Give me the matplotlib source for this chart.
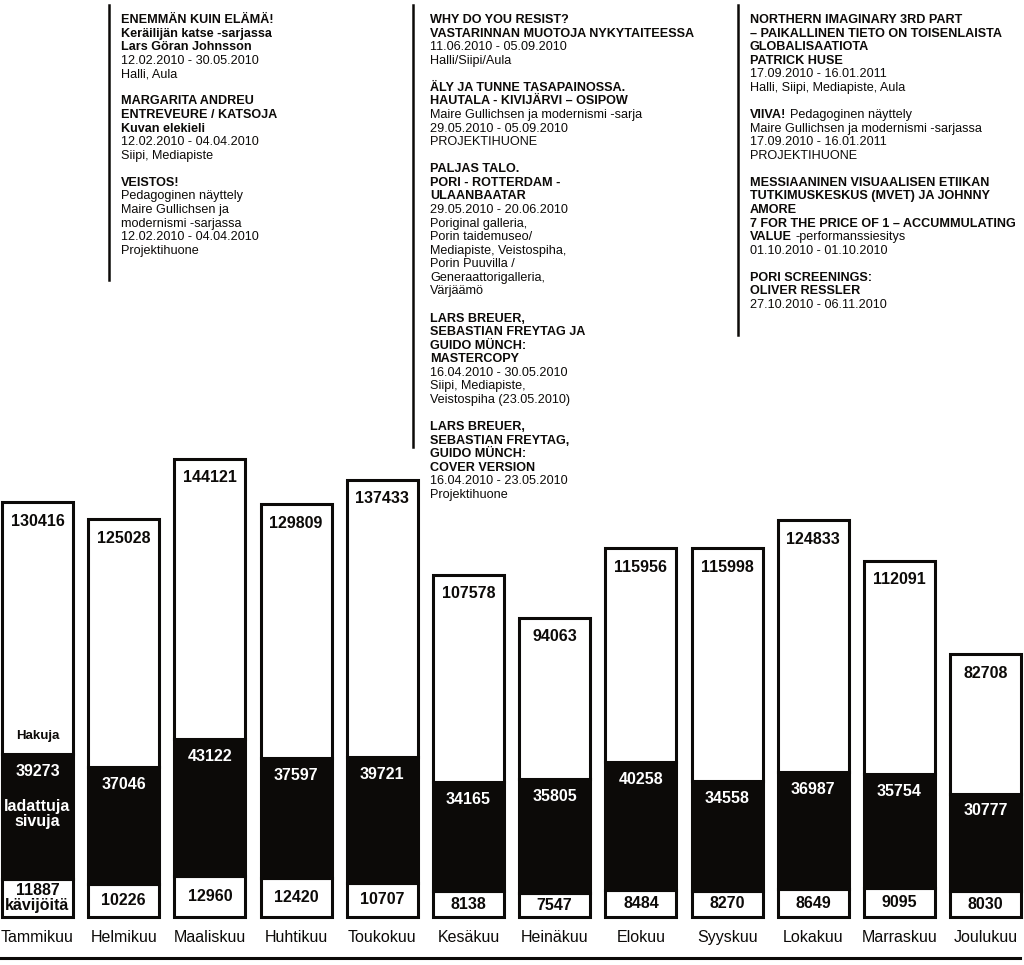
import matplotlib
matplotlib.use("Agg")
import matplotlib.pyplot as plt
import numpy as np

plt.rcParams['font.family'] = ['Liberation Sans', 'DejaVu Sans']

# monthly figures 2010
months = ["Tammikuu", "Helmikuu", "Maaliskuu", "Huhtikuu", "Toukokuu", "Kesäkuu",
          "Heinäkuu", "Elokuu", "Syyskuu", "Lokakuu", "Marraskuu", "Joulukuu"]
hakuja = [130416, 125028, 144121, 129809, 137433, 107578,
          94063, 115956, 115998, 124833, 112091, 82708]
sivuja = [39273, 37046, 43122, 37597, 39721, 34165,
          35805, 40258, 34558, 36987, 35754, 30777]
kavijoita = [11887, 10226, 12960, 12420, 10707, 8138,
             7547, 8484, 8270, 8649, 9095, 8030]

# exhibition notes, (text, bold); a list = mixed line, None = empty line
col1 = [
    ("ENEMMÄN KUIN ELÄMÄ!", 1),
    ("Keräilijän katse -sarjassa", 1),
    ("Lars Göran Johnsson", 1),
    ("12.02.2010 - 30.05.2010", 0),
    ("Halli, Aula", 0),
    None,
    ("MARGARITA ANDREU", 1),
    ("ENTREVEURE / KATSOJA", 1),
    ("Kuvan elekieli", 1),
    ("12.02.2010 - 04.04.2010", 0),
    ("Siipi, Mediapiste", 0),
    None,
    ("VEISTOS!", 1),
    ("Pedagoginen näyttely", 0),
    ("Maire Gullichsen ja", 0),
    ("modernismi -sarjassa", 0),
    ("12.02.2010 - 04.04.2010", 0),
    ("Projektihuone", 0),
]
col2 = [
    ("WHY DO YOU RESIST?", 1),
    ("VASTARINNAN MUOTOJA NYKYTAITEESSA", 1),
    ("11.06.2010 - 05.09.2010", 0),
    ("Halli/Siipi/Aula", 0),
    None,
    ("ÄLY JA TUNNE TASAPAINOSSA.", 1),
    ("HAUTALA - KIVIJÄRVI – OSIPOW", 1),
    ("Maire Gullichsen ja modernismi -sarja", 0),
    ("29.05.2010 - 05.09.2010", 0),
    ("PROJEKTIHUONE", 0),
    None,
    ("PALJAS TALO.", 1),
    ("PORI - ROTTERDAM -", 1),
    ("ULAANBAATAR", 1),
    ("29.05.2010 - 20.06.2010", 0),
    ("Poriginal galleria,", 0),
    ("Porin taidemuseo/", 0),
    ("Mediapiste, Veistospiha,", 0),
    ("Porin Puuvilla /", 0),
    ("Generaattorigalleria,", 0),
    ("Värjäämö", 0),
    None,
    ("LARS BREUER,", 1),
    ("SEBASTIAN FREYTAG JA", 1),
    ("GUIDO MÜNCH:", 1),
    ("MASTERCOPY", 1),
    ("16.04.2010 - 30.05.2010", 0),
    ("Siipi, Mediapiste,", 0),
    ("Veistospiha (23.05.2010)", 0),
    None,
    ("LARS BREUER,", 1),
    ("SEBASTIAN FREYTAG,", 1),
    ("GUIDO MÜNCH:", 1),
    ("COVER VERSION", 1),
    ("16.04.2010 - 23.05.2010", 0),
    ("Projektihuone", 0),
]
col3 = [
    ("NORTHERN IMAGINARY 3RD PART", 1),
    ("– PAIKALLINEN TIETO ON TOISENLAISTA", 1),
    ("GLOBALISAATIOTA", 1),
    ("PATRICK HUSE", 1),
    ("17.09.2010 - 16.01.2011", 0),
    ("Halli, Siipi, Mediapiste, Aula", 0),
    None,
    [("VIIVA!", 1), ("Pedagoginen näyttely", 0)],
    ("Maire Gullichsen ja modernismi -sarjassa", 0),
    ("17.09.2010 - 16.01.2011", 0),
    ("PROJEKTIHUONE", 0),
    None,
    ("MESSIAANINEN VISUAALISEN ETIIKAN", 1),
    ("TUTKIMUSKESKUS (MVET) JA JOHNNY", 1),
    ("AMORE", 1),
    ("7 FOR THE PRICE OF 1 – ACCUMMULATING", 1),
    [("VALUE", 1), ("-performanssiesitys", 0)],
    ("01.10.2010 - 01.10.2010", 0),
    None,
    ("PORI SCREENINGS:", 1),
    ("OLIVER RESSLER", 1),
    ("27.10.2010 - 06.11.2010", 0),
]

ink = '#0c0a08'
W, H = 1024, 965


def fx(px):
    return px / W


def fy(py):
    return 1 - py / H


fig = plt.figure(figsize=(W / 100, H / 100), dpi=100)
ax = fig.add_axes([0, 0, 1, 1])
ax.axis('off')

x = np.arange(len(months))
hak = np.array(hakuja)
siv = np.array(sivuja)
kav = np.array(kavijoita)
rest = hak - siv - kav
bw = 0.824

ax.bar(x, kav, bw, color='white', edgecolor=ink, lw=2.2)
ax.bar(x, siv, bw, bottom=kav, color=ink, edgecolor=ink, lw=2.2)
ax.bar(x, rest, bw, bottom=kav + siv, color='white', edgecolor=ink, lw=2.2)

ax.set_xlim(-0.435, -0.435 + W / 86.2)
ax.set_ylim(-15094, -15094 + H / 0.00318)

for i in x:
    ax.annotate(str(hakuja[i]), (i, hakuja[i]), xytext=(0, -13.7), textcoords='offset points',
                ha='center', va='center', fontsize=11.5, fontweight='bold', color=ink)
    ax.annotate(str(sivuja[i]), (i, kav[i] + siv[i]), xytext=(0, -12.5), textcoords='offset points',
                ha='center', va='center', fontsize=11.5, fontweight='bold', color='white')
    lab = str(kavijoita[i]) if i > 0 else str(kavijoita[i]) + "\nkävijöitä"
    ax.text(i, kav[i] / 2, lab, ha='center', va='center', fontsize=11.5, fontweight='bold',
            color=ink, linespacing=0.95)
    ax.annotate(months[i], (i, 0), xytext=(0, -15), textcoords='offset points',
                ha='center', va='center', fontsize=11.5, color=ink)

# legend words inside the first bar
ax.annotate("Hakuja", (0, kav[0] + siv[0]), xytext=(0, 13), textcoords='offset points',
            ha='center', va='center', fontsize=9.5, fontweight='bold', color=ink)
ax.annotate("ladattuja\nsivuja", (0, kav[0] + siv[0]), xytext=(0, -43), textcoords='offset points',
            ha='center', va='center', fontsize=11.5, fontweight='bold', color='white', linespacing=0.95)

# bottom rule
ax.plot([0, fx(1020)], [fy(958), fy(958)], transform=ax.transAxes, color=ink, lw=2.2, clip_on=False)


def draw_column(lines, lx, ly1, tx, y0=20, step=13.57, size=9.1):
    ax.plot([fx(lx), fx(lx)], [fy(5), fy(ly1)], transform=ax.transAxes, color=ink, lw=1.8,
            clip_on=False)
    for k, line in enumerate(lines):
        if line is None:
            continue
        pieces = line if isinstance(line, list) else [line]
        y = y0 + k * step
        prev = None
        for txt, b in pieces:
            w = 'bold' if b else 'normal'
            if prev is None:
                prev = ax.text(fx(tx), fy(y), txt, transform=ax.transAxes, ha='left',
                               va='center', fontsize=size, fontweight=w, color=ink)
            else:
                prev = ax.annotate(txt, xy=(1, 0.5), xycoords=prev, xytext=(2.5, 0),
                                   textcoords='offset points', ha='left', va='center',
                                   fontsize=size, fontweight=w, color=ink)


draw_column(col1, 109, 280, 121)
draw_column(col2, 413, 447, 430)
draw_column(col3, 738, 335, 750)

fig.savefig('out.png', dpi=100)
